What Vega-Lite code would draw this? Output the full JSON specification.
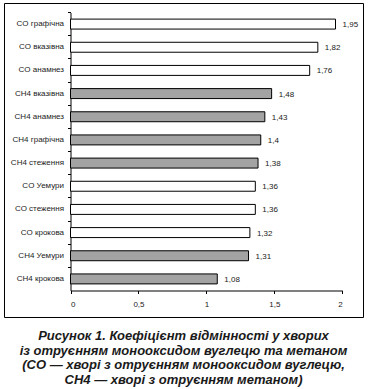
{
  "$schema": "https://vega.github.io/schema/vega-lite/v6.json",
  "width": 359,
  "height": 314,
  "autosize": {"type": "none"},
  "padding": {"left": 4, "top": 3, "right": 5, "bottom": 72},
  "background": "white",
  "data": {
    "values": [
      {"label": "CO графічна", "group": "CO", "value": 1.95},
      {"label": "CO вказівна", "group": "CO", "value": 1.82},
      {"label": "CO анамнез", "group": "CO", "value": 1.76},
      {"label": "CH4 вказівна", "group": "CH4", "value": 1.48},
      {"label": "CH4 анамнез", "group": "CH4", "value": 1.43},
      {"label": "CH4 графічна", "group": "CH4", "value": 1.4},
      {"label": "CH4 стеження", "group": "CH4", "value": 1.38},
      {"label": "CO Уемури", "group": "CO", "value": 1.36},
      {"label": "CO стеження", "group": "CO", "value": 1.36},
      {"label": "CO крокова", "group": "CO", "value": 1.32},
      {"label": "CH4 Уемури", "group": "CH4", "value": 1.31},
      {"label": "CH4 крокова", "group": "CH4", "value": 1.08}
    ]
  },
  "title": {
    "text": [
      "Рисунок 1. Коефіцієнт відмінності у хворих",
      "із отруєнням монооксидом вуглецю та метаном",
      "(CO — хворі з отруєнням монооксидом вуглецю,",
      "CH4 — хворі з отруєнням метаном)"
    ],
    "orient": "bottom",
    "anchor": "middle",
    "frame": "group",
    "font": "Liberation Sans",
    "fontSize": 13,
    "fontWeight": "bold",
    "fontStyle": "italic",
    "color": "#1a1a1a",
    "lineHeight": 14.7,
    "offset": 13
  },
  "encoding": {
    "y": {
      "field": "label",
      "type": "nominal",
      "sort": null,
      "scale": {"range": [9.5, 287.5], "paddingInner": 0, "paddingOuter": 0},
      "axis": {
        "title": null,
        "offset": -66.5,
        "bandPosition": 0,
        "tickSize": 3,
        "tickColor": "#000",
        "domainColor": "#000",
        "labelFont": "Liberation Sans",
        "labelFontSize": 8,
        "labelColor": "#222",
        "labelPadding": 4
      }
    },
    "x": {
      "field": "value",
      "type": "quantitative",
      "scale": {"domain": [0, 2], "range": [66.5, 338.3], "nice": false, "zero": true},
      "axis": {
        "title": null,
        "offset": -26.5,
        "values": [0, 0.5, 1, 1.5, 2],
        "format": "~g",
        "grid": false,
        "tickSize": 3,
        "tickColor": "#000",
        "domainColor": "#000",
        "labelFont": "Liberation Sans",
        "labelFontSize": 8,
        "labelColor": "#222",
        "labelPadding": 7
      }
    }
  },
  "layer": [
    {
      "mark": {"type": "bar", "height": {"band": 0.43}, "stroke": "#000", "strokeWidth": 1},
      "encoding": {
        "fill": {
          "field": "group",
          "type": "nominal",
          "scale": {"domain": ["CO", "CH4"], "range": ["#ffffff", "#a3a3a3"]},
          "legend": null
        }
      }
    },
    {
      "mark": {"type": "text", "align": "left", "baseline": "middle", "dx": 7, "dy": 1, "font": "Liberation Sans", "fontSize": 8, "color": "#222"},
      "encoding": {
        "text": {"field": "value", "type": "quantitative", "format": "~g"}
      }
    }
  ],
  "config": {
    "locale": {"number": {"decimal": ",", "thousands": " ", "grouping": [3], "currency": ["", ""]}},
    "view": {"stroke": "#000", "strokeWidth": 1}
  }
}
